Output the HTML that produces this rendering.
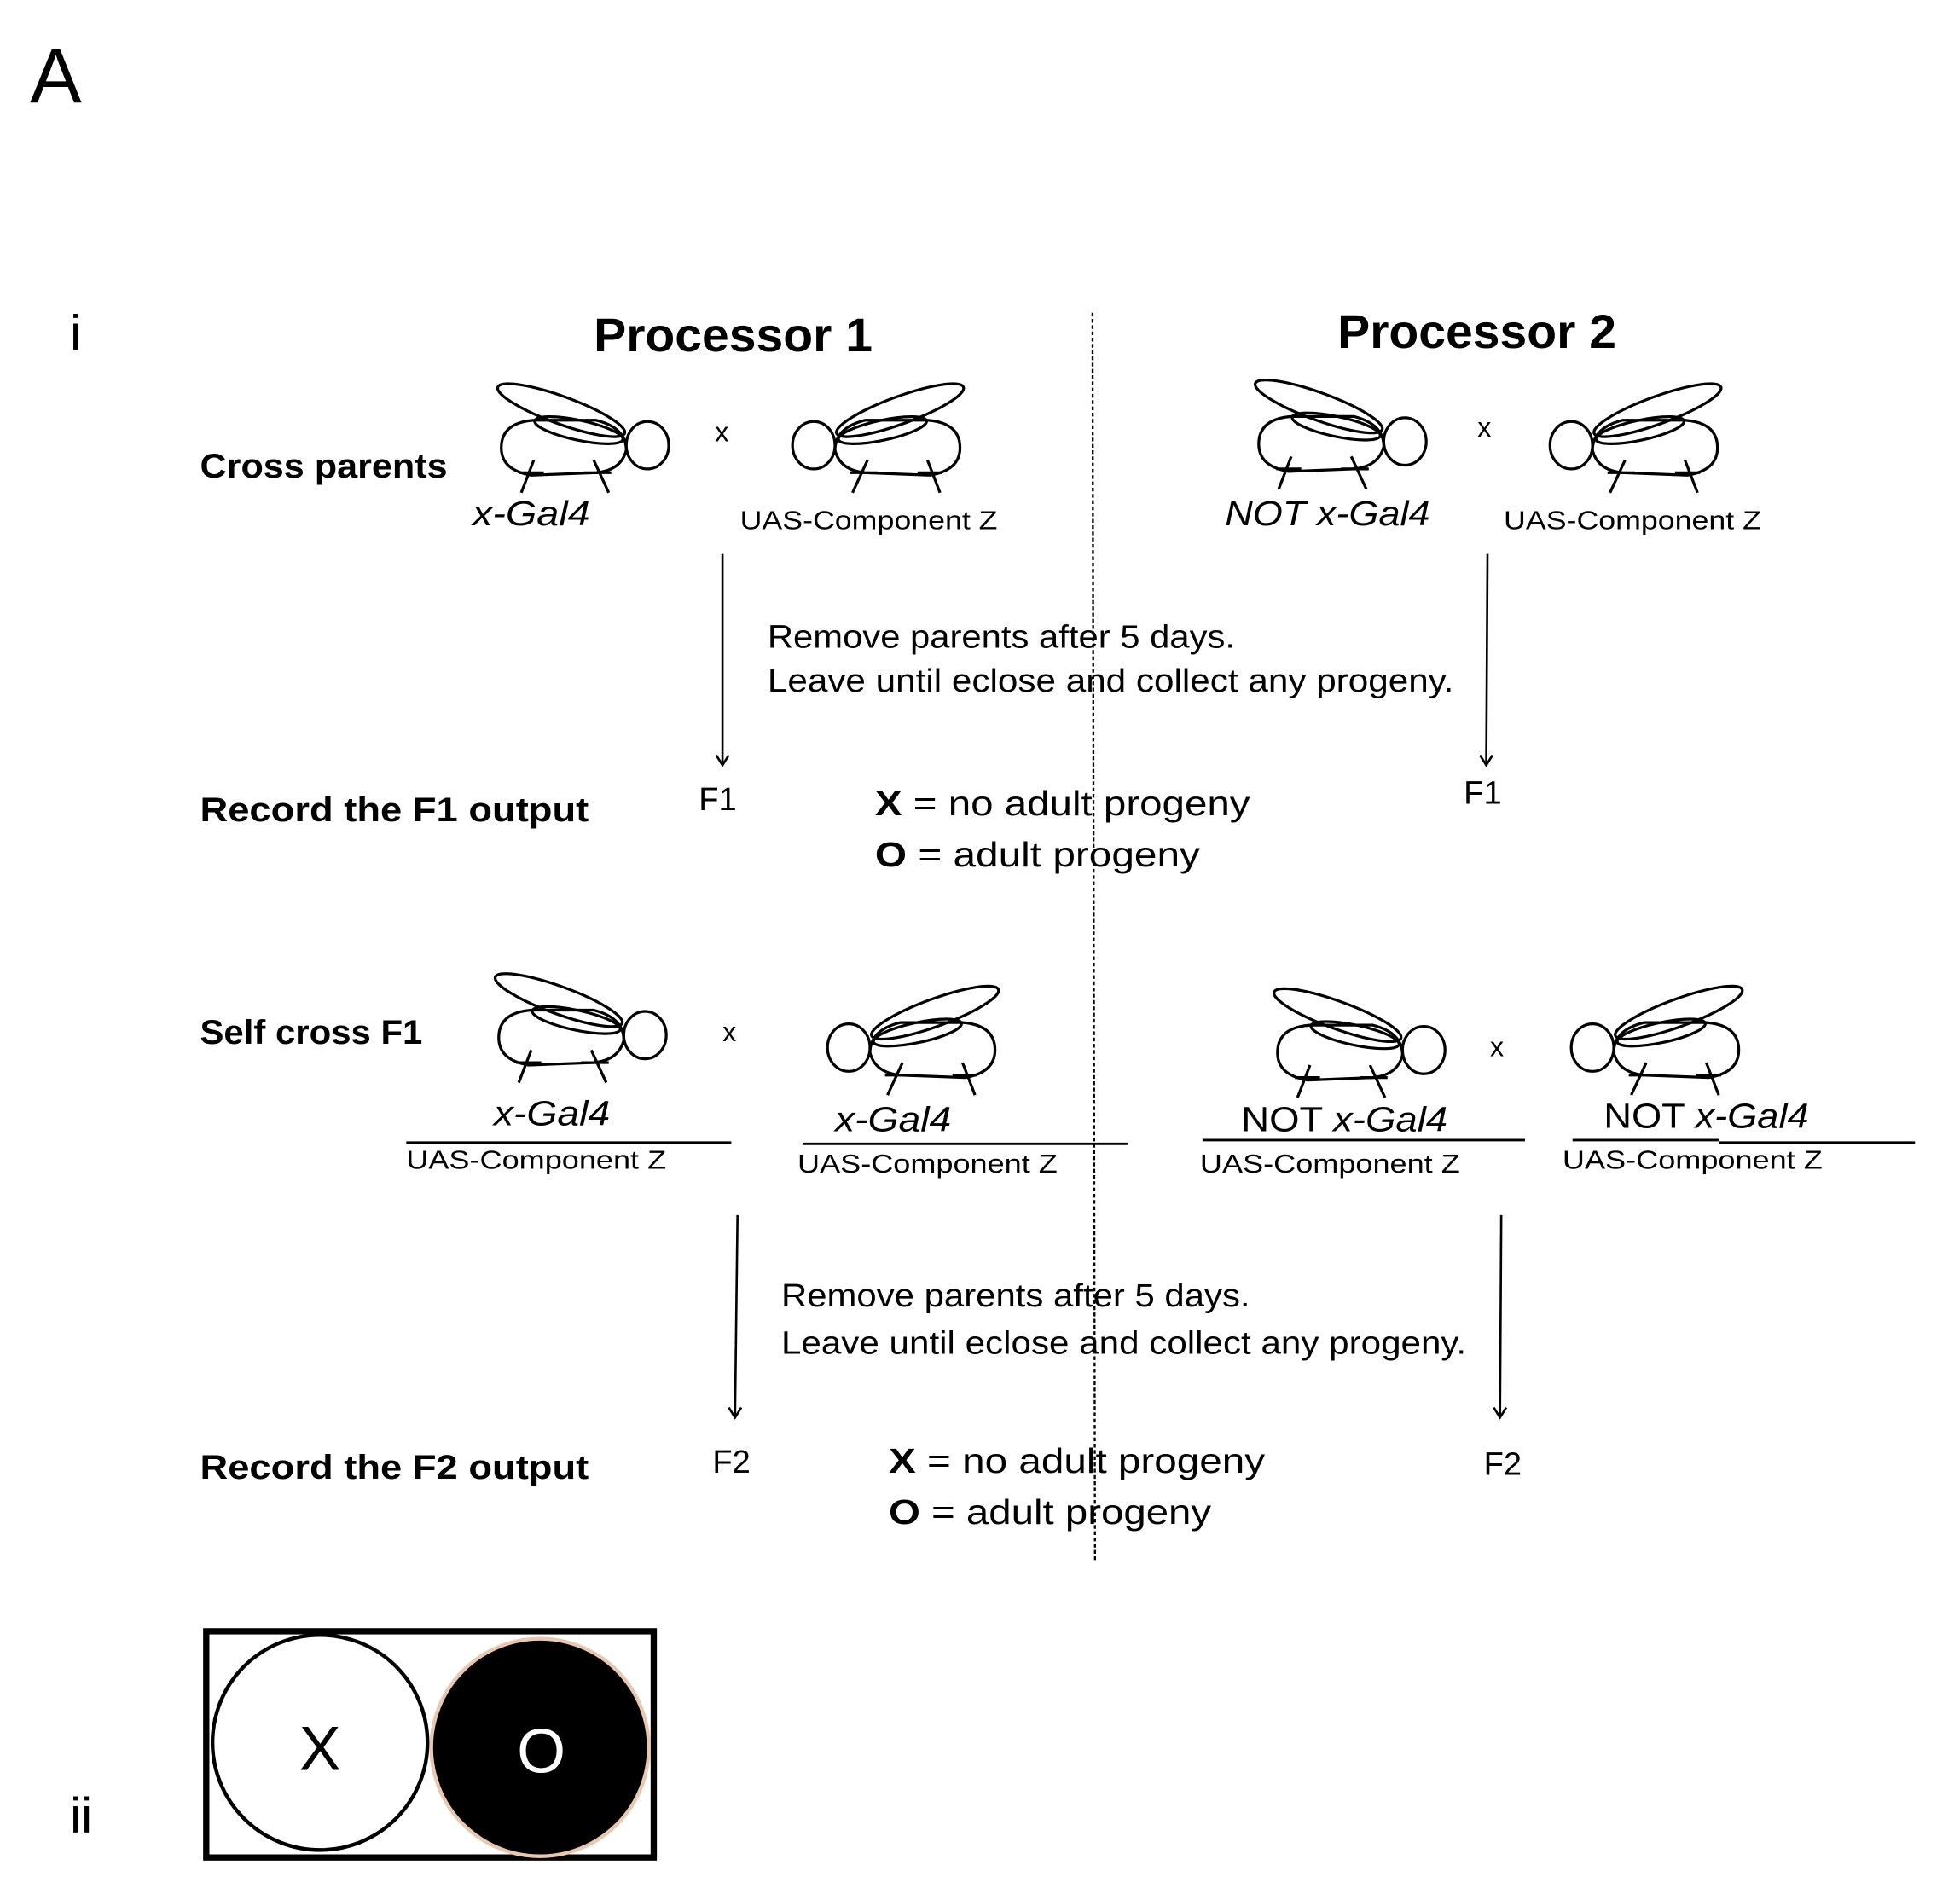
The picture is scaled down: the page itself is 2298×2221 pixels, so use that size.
<!DOCTYPE html>
<html><head><meta charset="utf-8"><style>
html,body{margin:0;padding:0;background:#fff}
svg{display:block}
text{font-family:"Liberation Sans",sans-serif;fill:#000}
.b{font-weight:bold}
.i{font-style:italic}
</style></head><body>
<svg width="2298" height="2221" viewBox="0 0 1568 1515" xmlns="http://www.w3.org/2000/svg">
<defs>
<g id="fly" fill="none" stroke="#000" stroke-width="2.2">
<path d="M4,52 Q4,32 30,30 L80,30 Q104,36 104,54 Q100,70 80,72 L28,74 Q4,70 4,52 Z"/>
<ellipse cx="121" cy="50" rx="17" ry="19"/>
<ellipse cx="52" cy="22" rx="54" ry="11" transform="rotate(20 52 22)"/>
<ellipse cx="66" cy="38" rx="36" ry="8" transform="rotate(12 66 38)"/>
<line x1="30" y1="62" x2="20" y2="88"/>
<line x1="18" y1="72" x2="38" y2="72"/>
<line x1="78" y1="62" x2="90" y2="88"/>
<line x1="70" y1="72" x2="92" y2="72"/>
</g>
<marker id="ah" markerWidth="14" markerHeight="14" refX="6" refY="11" orient="0" markerUnits="userSpaceOnUse">
<path d="M1,3 L6,11 L11,3" fill="none" stroke="#000" stroke-width="1.8"/>
</marker>
</defs>

<text x="24" y="82" font-size="62">A</text>
<text x="56" y="280" font-size="40">i</text>
<text x="56" y="1466" font-size="40">ii</text>

<text x="475" y="281" font-size="38" class="b" textLength="223" lengthAdjust="spacingAndGlyphs">Processor 1</text>
<text x="1070" y="278" font-size="38" class="b" textLength="223" lengthAdjust="spacingAndGlyphs">Processor 2</text>

<line x1="874" y1="250" x2="876" y2="1248" stroke="#000" stroke-width="1.6" stroke-dasharray="3,2"/>

<text x="160" y="382" font-size="27" class="b" textLength="198" lengthAdjust="spacingAndGlyphs">Cross parents</text>
<use href="#fly" x="397" y="306"/>
<text x="572" y="353" font-size="22">x</text>
<use href="#fly" transform="translate(772,306) scale(-1,1)"/>
<text x="378" y="420" font-size="28" class="i" textLength="94" lengthAdjust="spacingAndGlyphs">x-Gal4</text>
<text x="592" y="423" font-size="21" textLength="206" lengthAdjust="spacingAndGlyphs">UAS-Component Z</text>

<use href="#fly" x="1003" y="303"/>
<text x="1182" y="349" font-size="22">x</text>
<use href="#fly" transform="translate(1378,306) scale(-1,1)"/>
<text x="980" y="420" font-size="28" class="i" textLength="164" lengthAdjust="spacingAndGlyphs">NOT x-Gal4</text>
<text x="1203" y="423" font-size="21" textLength="206" lengthAdjust="spacingAndGlyphs">UAS-Component Z</text>

<line x1="578" y1="443" x2="578" y2="612" stroke="#000" stroke-width="1.8" marker-end="url(#ah)"/>
<line x1="1190" y1="443" x2="1189" y2="612" stroke="#000" stroke-width="1.8" marker-end="url(#ah)"/>

<text x="614" y="518" font-size="26" textLength="374" lengthAdjust="spacingAndGlyphs">Remove parents after 5 days.</text>
<text x="614" y="553" font-size="26" textLength="549" lengthAdjust="spacingAndGlyphs">Leave until eclose and collect any progeny.</text>

<text x="160" y="657" font-size="27" class="b" textLength="311" lengthAdjust="spacingAndGlyphs">Record the F1 output</text>
<text x="559" y="648" font-size="26">F1</text>
<text x="1171" y="643" font-size="26">F1</text>
<text x="700" y="652" font-size="28" textLength="300" lengthAdjust="spacingAndGlyphs"><tspan class="b">X</tspan> = no adult progeny</text>
<text x="700" y="693" font-size="28" textLength="260" lengthAdjust="spacingAndGlyphs"><tspan class="b">O</tspan> = adult progeny</text>

<text x="160" y="835" font-size="27" class="b" textLength="178" lengthAdjust="spacingAndGlyphs">Self cross F1</text>
<use href="#fly" x="395" y="778"/>
<text x="578" y="833" font-size="22">x</text>
<use href="#fly" transform="translate(800,788) scale(-1,1)"/>
<use href="#fly" x="1018" y="790"/>
<text x="1192" y="845" font-size="22">x</text>
<use href="#fly" transform="translate(1395,788) scale(-1,1)"/>

<text x="395" y="900" font-size="28" class="i" textLength="93" lengthAdjust="spacingAndGlyphs">x-Gal4</text>
<line x1="325" y1="914" x2="585" y2="914" stroke="#000" stroke-width="2"/>
<text x="325" y="935" font-size="21" textLength="208" lengthAdjust="spacingAndGlyphs">UAS-Component Z</text>

<text x="668" y="905" font-size="28" class="i" textLength="93" lengthAdjust="spacingAndGlyphs">x-Gal4</text>
<line x1="642" y1="915" x2="902" y2="915" stroke="#000" stroke-width="2"/>
<text x="638" y="938" font-size="21" textLength="208" lengthAdjust="spacingAndGlyphs">UAS-Component Z</text>

<text x="993" y="905" font-size="28" textLength="165" lengthAdjust="spacingAndGlyphs">NOT <tspan class="i">x-Gal4</tspan></text>
<line x1="962" y1="912" x2="1220" y2="912" stroke="#000" stroke-width="2"/>
<text x="960" y="938" font-size="21" textLength="208" lengthAdjust="spacingAndGlyphs">UAS-Component Z</text>

<text x="1283" y="902" font-size="28" textLength="164" lengthAdjust="spacingAndGlyphs">NOT <tspan class="i">x-Gal4</tspan></text>
<line x1="1258" y1="912" x2="1375" y2="912" stroke="#000" stroke-width="2"/>
<line x1="1375" y1="914" x2="1532" y2="914" stroke="#000" stroke-width="2"/>
<text x="1250" y="935" font-size="21" textLength="208" lengthAdjust="spacingAndGlyphs">UAS-Component Z</text>

<line x1="590" y1="972" x2="588" y2="1134" stroke="#000" stroke-width="1.8" marker-end="url(#ah)"/>
<line x1="1201" y1="972" x2="1200" y2="1134" stroke="#000" stroke-width="1.8" marker-end="url(#ah)"/>

<text x="625" y="1045" font-size="26" textLength="375" lengthAdjust="spacingAndGlyphs">Remove parents after 5 days.</text>
<text x="625" y="1083" font-size="26" textLength="548" lengthAdjust="spacingAndGlyphs">Leave until eclose and collect any progeny.</text>

<text x="160" y="1183" font-size="27" class="b" textLength="311" lengthAdjust="spacingAndGlyphs">Record the F2 output</text>
<text x="570" y="1178" font-size="26">F2</text>
<text x="1187" y="1180" font-size="26">F2</text>
<text x="711" y="1178" font-size="28" textLength="301" lengthAdjust="spacingAndGlyphs"><tspan class="b">X</tspan> = no adult progeny</text>
<text x="711" y="1219" font-size="28" textLength="258" lengthAdjust="spacingAndGlyphs"><tspan class="b">O</tspan> = adult progeny</text>

<rect x="165" y="1305" width="358" height="181" fill="#fff" stroke="#000" stroke-width="5"/>
<circle cx="256" cy="1394" r="86" fill="#fff" stroke="#000" stroke-width="3"/>
<circle cx="432" cy="1398" r="87" fill="#000" stroke="#e8c8b0" stroke-width="3"/>
<text x="256" y="1416" font-size="50" text-anchor="middle">X</text>
<text x="433" y="1418" font-size="50" text-anchor="middle" style="fill:#fff">O</text>
</svg>
</body></html>
